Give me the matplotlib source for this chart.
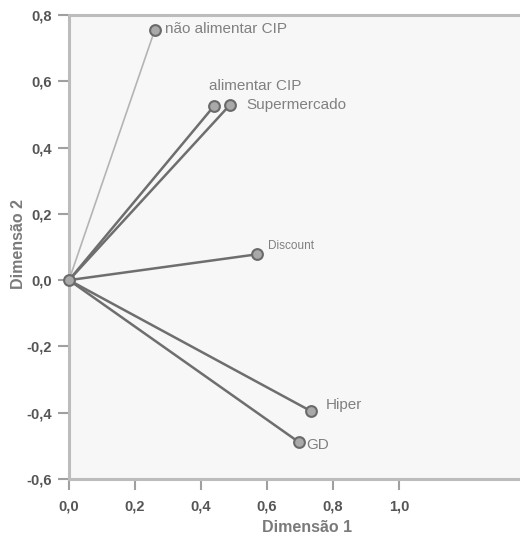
import matplotlib.pyplot as plt
from matplotlib.ticker import FuncFormatter

plt.rcParams['font.family'] = ['Liberation Sans', 'DejaVu Sans']

labels = ["não alimentar CIP", "alimentar CIP", "Supermercado", "Discount", "Hiper", "GD"]
dim1 = [0.26, 0.44, 0.488, 0.57, 0.733, 0.697]
dim2 = [0.755, 0.526, 0.529, 0.078, -0.395, -0.489]

xticks = [0.0, 0.2, 0.4, 0.6, 0.8, 1.0]
yticks = [-0.6, -0.4, -0.2, 0.0, 0.2, 0.4, 0.6, 0.8]

fig = plt.figure(figsize=(5.2, 5.54), dpi=100)
ax = fig.add_axes([0.1327, 0.1354, 0.8673, 0.8375])
ax.set_facecolor("#f7f7f7")

line_colors = ["#b4b4b4", "#6e6e6e", "#6e6e6e", "#6e6e6e", "#6e6e6e", "#6e6e6e"]
line_widths = [1.2, 1.8, 1.8, 1.8, 1.8, 1.8]
for x, y, c, lw in zip(dim1, dim2, line_colors, line_widths):
    ax.plot([0, x], [0, y], color=c, lw=lw, zorder=2)

ax.scatter(dim1 + [0], dim2 + [0], s=60, color="#a9a9a9", edgecolors="#6a6a6a",
           linewidths=1.5, zorder=3, clip_on=False)

# label placement offsets in points
offsets = [(7, 1), (-4, 14), (12, 0), (8, 6), (11, 4), (5, -2)]
sizes = [11, 11, 11, 8.5, 11, 11]
for lab, x, y, off, fs in zip(labels, dim1, dim2, offsets, sizes):
    ax.annotate(lab, (x, y), xytext=off, textcoords="offset points",
                ha="left", va="center", fontsize=fs, color="#808080")

ax.set_xlim(0, 1.367)
ax.set_ylim(-0.6, 0.8)
ax.set_xticks(xticks)
ax.set_yticks(yticks)
fmt = FuncFormatter(lambda v, p: f"{v:.1f}".replace(".", ","))
ax.xaxis.set_major_formatter(fmt)
ax.yaxis.set_major_formatter(fmt)

for s in ["left", "bottom", "top"]:
    ax.spines[s].set_color("#bcbcbc")
    ax.spines[s].set_linewidth(2.2)
ax.spines["right"].set_visible(False)

ax.tick_params(axis="both", color="#a0a0a0", width=1.5, length=8,
               labelsize=10.5, labelcolor="#555555")
ax.tick_params(axis="x", pad=7)
ax.tick_params(axis="y", pad=4)
for t in ax.get_xticklabels() + ax.get_yticklabels():
    t.set_fontweight("bold")

fig.text(0.59, 0.047, "Dimensão 1", ha="center", va="center", fontsize=11.5,
         fontweight="bold", color="#7a7a7a")
fig.text(0.035, 0.56, "Dimensão 2", ha="center", va="center", rotation=90,
         fontsize=11.5, fontweight="bold", color="#7a7a7a")

fig.savefig("out.png", dpi=100)
